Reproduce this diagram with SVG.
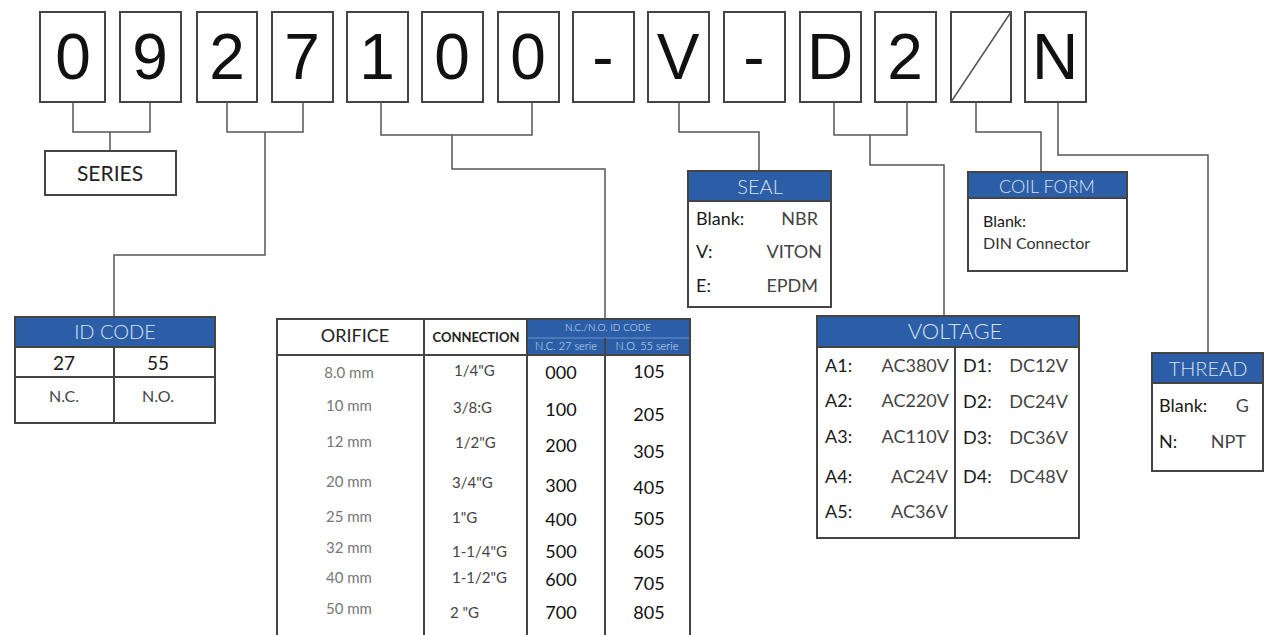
<svg xmlns="http://www.w3.org/2000/svg" width="1277" height="635" viewBox="0 0 1277 635">
<style>
.bg{fill:#fff}
.box{fill:#fff;stroke:#444;stroke-width:2}
.hdr{fill:#2c5ea8;stroke:#444;stroke-width:2}
.ln{fill:none;stroke:#444;stroke-width:2}
.thin{fill:none;stroke:#555;stroke-width:1.5}
.dig{font-family:"Liberation Sans",Arial,sans-serif;font-size:64px;fill:#111;text-anchor:middle}
.t{font-family:Lato,"Open Sans",sans-serif}
.ht{font-family:Lato,"Open Sans",sans-serif;fill:#d6e1f2;text-anchor:middle;font-weight:300}
.lab{font-family:Lato,"Open Sans",sans-serif;font-size:18px;fill:#1a1a1a}
.val{font-family:Lato,"Open Sans",sans-serif;font-size:18px;fill:#444}
.r{text-anchor:end}
.c{text-anchor:middle}
.ori{font-family:Lato,"Open Sans",sans-serif;font-size:15px;fill:#777;text-anchor:middle}
.con{font-family:Lato,"Open Sans",sans-serif;font-size:15px;fill:#444}
.code{font-family:Lato,"Open Sans",sans-serif;font-size:18px;fill:#111;text-anchor:middle}
</style>
<rect class="bg" x="0" y="0" width="1277" height="635"/>

<g id="code-boxes">
<rect class="box" x="40" y="12" width="65" height="90"/><text class="dig" x="73" y="79">0</text>
<rect class="box" x="120" y="12" width="61" height="90"/><text class="dig" x="150" y="79">9</text>
<rect class="box" x="197" y="12" width="60" height="90"/><text class="dig" x="227" y="79">2</text>
<rect class="box" x="272" y="12" width="61" height="90"/><text class="dig" x="302" y="79">7</text>
<rect class="box" x="347" y="12" width="61" height="90"/><text class="dig" x="377" y="79">1</text>
<rect class="box" x="422" y="12" width="61" height="90"/><text class="dig" x="452" y="79">0</text>
<rect class="box" x="498" y="12" width="61" height="90"/><text class="dig" x="528" y="79">0</text>
<rect class="box" x="573" y="12" width="61" height="90"/><text class="dig" x="603" y="79">-</text>
<rect class="box" x="648" y="12" width="61" height="90"/><text class="dig" x="678" y="79">V</text>
<rect class="box" x="724" y="12" width="61" height="90"/><text class="dig" x="754" y="79">-</text>
<rect class="box" x="800" y="12" width="61" height="90"/><text class="dig" x="830" y="79">D</text>
<rect class="box" x="875" y="12" width="61" height="90"/><text class="dig" x="905" y="79">2</text>
<rect class="box" x="951" y="12" width="60" height="90"/><line class="thin" x1="951" y1="102" x2="1011" y2="12"/>
<rect class="box" x="1025" y="12" width="61" height="90"/><text class="dig" x="1055" y="79">N</text>
</g>

<g id="connectors">
<path class="thin" d="M73,102 V132 H150 V102 M110,132 V151"/>
<path class="thin" d="M227,102 V132 H303 V102 M265,132 V255 H114 V317"/>
<path class="thin" d="M381,102 V135 H532 V102 M452,135 V169 H605 V319"/>
<path class="thin" d="M679,102 V132 H759 V171"/>
<path class="thin" d="M834,102 V135 H907 V102 M870,135 V165 H944 V316"/>
<path class="thin" d="M976,102 V132 H1041 V172"/>
<path class="thin" d="M1058,102 V155 H1208 V353"/>
</g>

<g id="series">
<rect class="box" x="45" y="151" width="131" height="44"/>
<text class="t" x="110" y="181" font-size="21" fill="#222" text-anchor="middle">SERIES</text>
</g>

<g id="id-code">
<rect class="box" x="15" y="317" width="200" height="106"/>
<rect class="hdr" x="15" y="317" width="200" height="30"/>
<text class="ht" x="115" y="339" font-size="20">ID CODE</text>
<line class="ln" x1="15" y1="377" x2="215" y2="377"/>
<line class="ln" x1="114" y1="347" x2="114" y2="423"/>
<text class="t" x="64" y="370" font-size="19" fill="#1a1a1a" text-anchor="middle">27</text>
<text class="t" x="158" y="370" font-size="19" fill="#1a1a1a" text-anchor="middle">55</text>
<text class="t" x="64" y="402" font-size="16" fill="#444" text-anchor="middle">N.C.</text>
<text class="t" x="158" y="402" font-size="16" fill="#444" text-anchor="middle">N.O.</text>
</g>

<g id="orifice-table">
<rect x="527" y="319" width="163" height="36" fill="#2c5ea8"/>
<line x1="527" y1="338" x2="690" y2="338" stroke="#6f93c8" stroke-width="1"/>
<path class="ln" d="M277,635 V319 H690 V635 M277,355 H690 M424,319 V635 M527,319 V635 M605,338 V635"/>
<text class="t" x="355" y="342" font-size="18" fill="#222" text-anchor="middle">ORIFICE</text>
<text class="t" x="476" y="342" font-size="13" fill="#222" text-anchor="middle" font-weight="bold">CONNECTION</text>
<text class="ht" x="608" y="331" font-size="10">N.C./N.O.  ID CODE</text>
<text class="ht" x="566" y="350" font-size="11">N.C. 27 serie</text>
<text class="ht" x="647" y="350" font-size="11">N.O. 55 serie</text>

<text class="ori" x="349" y="378">8.0 mm</text>
<text class="ori" x="349" y="411">10  mm</text>
<text class="ori" x="349" y="447">12  mm</text>
<text class="ori" x="349" y="487">20  mm</text>
<text class="ori" x="349" y="522">25  mm</text>
<text class="ori" x="349" y="553">32  mm</text>
<text class="ori" x="349" y="583">40  mm</text>
<text class="ori" x="349" y="614">50  mm</text>

<text class="con" x="454" y="376">1/4"G</text>
<text class="con" x="453" y="413">3/8:G</text>
<text class="con" x="455" y="448">1/2"G</text>
<text class="con" x="452" y="488">3/4"G</text>
<text class="con" x="452" y="523">1"G</text>
<text class="con" x="452" y="557">1-1/4"G</text>
<text class="con" x="452" y="583">1-1/2"G</text>
<text class="con" x="450" y="618">2 "G</text>

<text class="code" x="561" y="379">000</text>
<text class="code" x="561" y="416">100</text>
<text class="code" x="561" y="452">200</text>
<text class="code" x="561" y="492">300</text>
<text class="code" x="561" y="526">400</text>
<text class="code" x="561" y="558">500</text>
<text class="code" x="561" y="586">600</text>
<text class="code" x="561" y="619">700</text>

<text class="code" x="649" y="378">105</text>
<text class="code" x="649" y="421">205</text>
<text class="code" x="649" y="458">305</text>
<text class="code" x="649" y="494">405</text>
<text class="code" x="649" y="525">505</text>
<text class="code" x="649" y="558">605</text>
<text class="code" x="649" y="590">705</text>
<text class="code" x="649" y="619">805</text>
</g>

<g id="seal">
<rect class="box" x="688" y="171" width="143" height="136"/>
<rect class="hdr" x="688" y="171" width="143" height="30"/>
<text class="ht" x="760" y="194" font-size="20">SEAL</text>
<text class="lab" x="696" y="225">Blank:</text><text class="val r" x="818" y="225">NBR</text>
<text class="lab" x="696" y="258">V:</text><text class="val r" x="822" y="258">VITON</text>
<text class="lab" x="696" y="292">E:</text><text class="val r" x="818" y="292">EPDM</text>
</g>

<g id="coil-form">
<rect class="box" x="968" y="172" width="159" height="99"/>
<rect class="hdr" x="968" y="172" width="159" height="26"/>
<text class="ht" x="1047" y="193" font-size="18">COIL FORM</text>
<text class="t" x="983" y="227" font-size="16" fill="#1a1a1a">Blank:</text>
<text class="t" x="983" y="249" font-size="16" fill="#333">DIN Connector</text>
</g>

<g id="voltage">
<rect class="box" x="817" y="316" width="262" height="222"/>
<rect class="hdr" x="817" y="316" width="262" height="31"/>
<text class="ht" x="955" y="339" font-size="22">VOLTAGE</text>
<line class="ln" x1="955" y1="347" x2="955" y2="538"/>
<text class="lab" x="825" y="372">A1:</text><text class="val r" x="949" y="372">AC380V</text>
<text class="lab" x="825" y="407">A2:</text><text class="val r" x="949" y="407">AC220V</text>
<text class="lab" x="825" y="443">A3:</text><text class="val r" x="949" y="443">AC110V</text>
<text class="lab" x="825" y="483">A4:</text><text class="val r" x="948" y="483">AC24V</text>
<text class="lab" x="825" y="518">A5:</text><text class="val r" x="948" y="518">AC36V</text>
<text class="lab" x="963" y="372">D1:</text><text class="val r" x="1068" y="372">DC12V</text>
<text class="lab" x="963" y="408">D2:</text><text class="val r" x="1068" y="408">DC24V</text>
<text class="lab" x="963" y="444">D3:</text><text class="val r" x="1068" y="444">DC36V</text>
<text class="lab" x="963" y="483">D4:</text><text class="val r" x="1068" y="483">DC48V</text>
</g>

<g id="thread">
<rect class="box" x="1152" y="353" width="111" height="118"/>
<rect class="hdr" x="1152" y="353" width="111" height="30"/>
<text class="ht" x="1208" y="376" font-size="20">THREAD</text>
<text class="lab" x="1159" y="412">Blank:</text><text class="val r" x="1249" y="412">G</text>
<text class="lab" x="1159" y="448">N:</text><text class="val r" x="1246" y="448">NPT</text>
</g>
</svg>
